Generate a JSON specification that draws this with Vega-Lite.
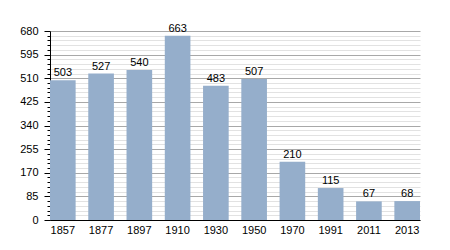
{
  "$schema": "https://vega.github.io/schema/vega-lite/v6.json",
  "width": 370,
  "height": 189,
  "autosize": {"type": "none"},
  "padding": {"left": 50, "top": 31, "right": 30, "bottom": 30},
  "background": "white",
  "config": {
    "view": {"stroke": null},
    "font": "Liberation Sans",
    "axis": {"labelFont": "Liberation Sans", "labelFontSize": 11, "labelColor": "#000", "domainColor": "#000", "title": null}
  },
  "data": {
    "values": [
      {"year": "1857", "pop": 503},
      {"year": "1877", "pop": 527},
      {"year": "1897", "pop": 540},
      {"year": "1910", "pop": 663},
      {"year": "1930", "pop": 483},
      {"year": "1950", "pop": 507},
      {"year": "1970", "pop": 210},
      {"year": "1991", "pop": 115},
      {"year": "2011", "pop": 67},
      {"year": "2013", "pop": 68}
    ]
  },
  "encoding": {
    "x": {
      "field": "year",
      "type": "ordinal",
      "scale": {"paddingInner": 0.33, "paddingOuter": 0},
      "axis": {"labelAngle": 0, "ticks": false, "labelPadding": 4, "domainWidth": 1}
    },
    "y": {
      "field": "pop",
      "type": "quantitative",
      "scale": {"domain": [0, 680], "nice": false},
      "axis": {
        "values": [0,17,34,51,68,85,102,119,136,153,170,187,204,221,238,255,272,289,306,323,340,357,374,391,408,425,442,459,476,493,510,527,544,561,578,595,612,629,646,663,680],
        "labelExpr": "datum.value % 85 === 0 ? datum.label : ''",
        "grid": true,
        "gridColor": {"condition": {"test": "datum.value % 85 === 0", "value": "#a8a8a8"}, "value": "#e2e2e2"},
        "tickColor": "#000",
        "tickSize": {"condition": {"test": "datum.value % 85 === 0", "value": 6}, "value": 3},
        "labelPadding": 6,
        "labelBound": false
      }
    }
  },
  "layer": [
    {"mark": {"type": "bar", "color": "#95aecb"}},
    {
      "mark": {"type": "text", "dy": -7, "fontSize": 11, "color": "#000", "font": "Liberation Sans"},
      "encoding": {"text": {"field": "pop", "type": "quantitative"}}
    }
  ]
}
